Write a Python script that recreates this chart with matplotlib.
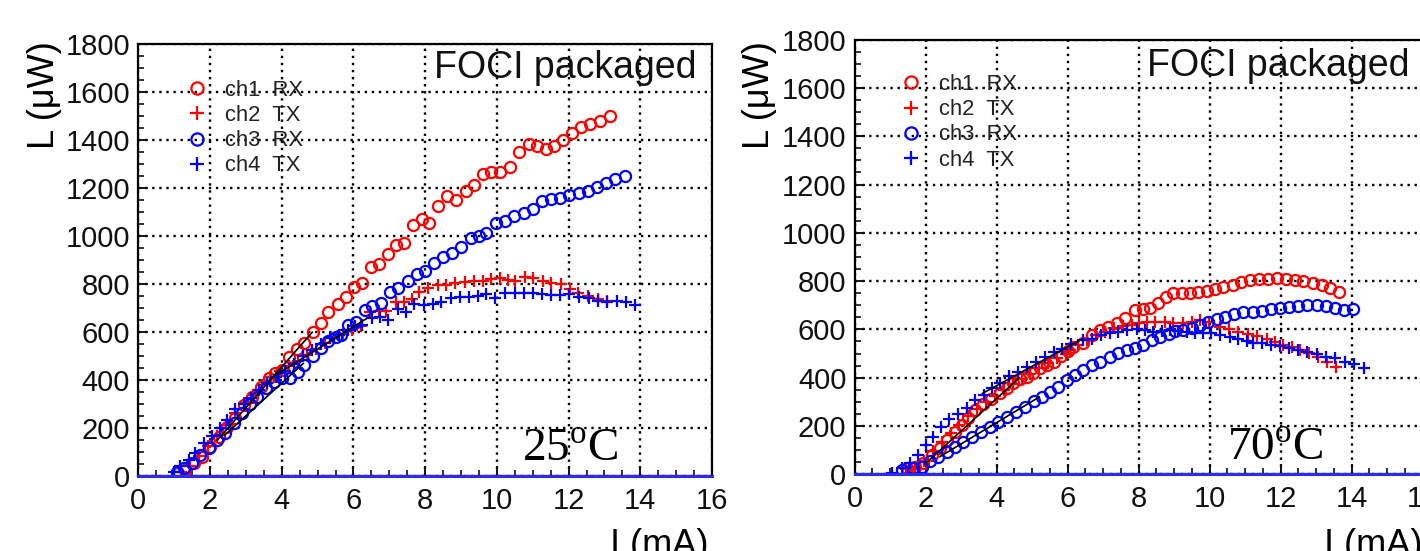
import matplotlib
matplotlib.use("Agg")
import matplotlib.pyplot as plt
from matplotlib.ticker import MultipleLocator

plt.rcParams['font.family'] = ['Liberation Sans', 'DejaVu Sans']
plt.rcParams['mathtext.fontset'] = 'custom'
plt.rcParams['mathtext.rm'] = 'Liberation Serif'

# 25 C data, current in mA, light output in uW
ch1_rx_25_i = [1.1, 1.3, 1.55, 1.78, 2.0, 2.25, 2.48, 2.7, 2.95, 3.18, 3.41, 3.65, 3.8, 4.0, 4.2, 4.42, 4.62,
               4.86, 5.09, 5.3, 5.56, 5.79, 6.02, 6.24, 6.49, 6.7, 6.95, 7.19, 7.42, 7.65, 7.9, 8.12, 8.35, 8.61,
               8.87, 9.13, 9.36, 9.61, 9.84, 10.08, 10.36, 10.61, 10.89, 11.13, 11.36, 11.6, 11.85, 12.1, 12.34,
               12.6, 12.88, 13.16]
ch1_rx_25_L = [12, 26, 54, 82, 123, 165, 207, 245, 297, 332, 374, 408, 430, 445, 498, 530, 555,
               600, 640, 686, 716, 748, 790, 807, 873, 885, 925, 964, 971, 1047, 1072, 1057, 1126, 1169,
               1151, 1189, 1214, 1260, 1269, 1269, 1287, 1353, 1385, 1376, 1364, 1378, 1401, 1432, 1457,
               1468, 1482, 1501]

ch2_tx_25_i = [1.2, 1.45, 1.7, 1.95, 2.2, 2.45, 2.7, 2.95, 3.2, 3.45, 3.7, 3.95, 4.2, 4.45, 4.7, 4.95, 5.2,
               5.45, 5.7, 5.95, 6.2, 6.45, 6.7, 6.9, 7.19, 7.4, 7.62, 7.84, 8.07, 8.35, 8.59, 8.84, 9.1, 9.36,
               9.61, 9.84, 10.08, 10.3, 10.5, 10.78, 11.01, 11.29, 11.52, 11.79, 12.04, 12.27, 12.53, 12.81,
               13.06]
ch2_tx_25_L = [20, 45, 85, 125, 170, 215, 265, 305, 340, 380, 415, 440, 460, 480, 505, 530, 555,
               575, 595, 610, 625, 686, 688, 690, 728, 728, 740, 769, 786, 797, 797, 804, 811, 814,
               814, 821, 825, 818, 815, 829, 825, 815, 807, 801, 780, 765, 751, 737,
               732]

ch3_rx_25_i = [1.08, 1.27, 1.5, 1.73, 1.97, 2.2, 2.43, 2.67, 2.9, 3.11, 3.32, 3.55, 3.79, 4.02, 4.23, 4.44,
               4.63, 4.86, 5.09, 5.3, 5.5, 5.65, 5.85, 6.07, 6.32, 6.53, 6.77, 7.03, 7.25, 7.51, 7.77, 8.0,
               8.26, 8.51, 8.75, 9.01, 9.27, 9.5, 9.71, 9.98, 10.24, 10.48, 10.76, 11.01, 11.26, 11.52, 11.77,
               12.01, 12.29, 12.53, 12.79, 13.03, 13.3, 13.56]
ch3_rx_25_L = [19, 33, 54, 89, 116, 151, 179, 221, 262, 300, 332, 366, 394, 408, 408, 436,
               464, 500, 535, 565, 580, 590, 630, 641, 693, 709, 723, 769, 786, 815, 843, 857,
               890, 915, 929, 957, 992, 1003, 1012, 1054, 1064, 1086, 1096, 1114, 1147, 1154, 1161,
               1172, 1182, 1189, 1207, 1221, 1237, 1251]

ch4_tx_25_i = [1.0, 1.17, 1.41, 1.59, 1.83, 2.06, 2.27, 2.48, 2.71, 2.95, 3.13, 3.37, 3.6, 3.85, 4.1, 4.35,
               4.6, 4.85, 5.09, 5.35, 5.6, 5.85, 6.05, 6.25, 6.53, 6.75, 6.97, 7.23, 7.47, 7.7, 7.96, 8.21,
               8.45, 8.71, 8.96, 9.22, 9.47, 9.71, 9.94, 10.24, 10.5, 10.76, 11.01, 11.26, 11.52, 11.77, 12.01,
               12.29, 12.57, 12.81, 13.06, 13.34, 13.59, 13.84]
ch4_tx_25_L = [20, 45, 68, 98, 140, 169, 200, 234, 279, 301, 325, 360, 390, 415, 440, 470,
               500, 525, 550, 575, 590, 610, 625, 630, 661, 665, 651, 696, 686, 718, 714, 718,
               728, 742, 748, 748, 753, 758, 742, 762, 762, 765, 765, 760, 755, 755, 760,
               748, 741, 730, 727, 730, 727, 714]

# 70 C data
ch1_rx_70_i = [1.46, 1.7, 1.93, 2.17, 2.4, 2.61, 2.83, 3.01, 3.2, 3.39, 3.62, 3.85, 4.09, 4.28, 4.47, 4.66,
               4.84, 5.03, 5.22, 5.41, 5.6, 5.8, 6.0, 6.16, 6.44, 6.68, 6.91, 7.14, 7.38, 7.61, 7.9, 8.13,
               8.32, 8.55, 8.77, 8.98, 9.21, 9.45, 9.68, 9.91, 10.15, 10.38, 10.65, 10.87, 11.14, 11.4, 11.65,
               11.9, 12.15, 12.4, 12.64, 12.9, 13.15, 13.39, 13.65]
ch1_rx_70_L = [25, 32, 45, 80, 108, 142, 177, 204, 232, 266, 290, 310, 335, 356, 377, 393,
               404, 418, 439, 453, 466, 490, 510, 526, 545, 575, 598, 611, 625, 646, 680, 683,
               687, 711, 735, 749, 749, 749, 756, 760, 766, 776, 782, 798, 805, 807, 809,
               811, 809, 805, 802, 791, 784, 770, 756]

ch2_tx_70_i = [1.45, 1.7, 1.95, 2.2, 2.45, 2.7, 2.95, 3.2, 3.45, 3.7, 3.95, 4.2, 4.45, 4.7, 4.95, 5.2,
               5.45, 5.7, 5.95, 6.07, 6.3, 6.55, 6.8, 7.05, 7.3, 7.55, 7.8, 8.0, 8.22, 8.46, 8.74, 8.98,
               9.25, 9.5, 9.73, 9.98, 10.3, 10.55, 10.8, 11.09, 11.32, 11.6, 11.84, 12.07, 12.31, 12.54,
               12.81, 13.06, 13.31, 13.56]
ch2_tx_70_L = [20, 30, 55, 95, 135, 170, 205, 240, 270, 300, 325, 350, 375, 395, 415, 440,
               460, 480, 500, 515, 535, 555, 575, 590, 605, 615, 620, 628, 632, 632, 632, 628,
               625, 632, 639, 630, 612, 600, 590, 581, 573, 559, 549, 535, 526, 515,
               501, 487, 466, 446]

ch3_rx_70_i = [1.32, 1.65, 1.89, 2.12, 2.36, 2.59, 2.82, 3.06, 3.3, 3.55, 3.8, 4.05, 4.3, 4.55, 4.8, 5.05,
               5.27, 5.5, 5.74, 5.97, 6.21, 6.44, 6.68, 6.91, 7.19, 7.43, 7.66, 7.9, 8.13, 8.37, 8.6, 8.84,
               9.02, 9.25, 9.49, 9.73, 9.96, 10.2, 10.43, 10.68, 10.95, 11.21, 11.46, 11.72, 11.98, 12.24,
               12.5, 12.75, 13.01, 13.28, 13.53, 13.78, 14.03]
ch3_rx_70_L = [18, 25, 32, 55, 73, 94, 115, 135, 155, 175, 195, 215, 237, 258, 280, 302,
               322, 342, 363, 391, 411, 432, 453, 466, 487, 501, 515, 522, 536, 556, 570, 581,
               595, 598, 604, 618, 632, 642, 653, 664, 674, 674, 677, 683, 687, 694,
               697, 701, 701, 697, 687, 680, 683]

ch4_tx_70_i = [1.04, 1.32, 1.56, 1.79, 2.0, 2.2, 2.43, 2.67, 2.92, 3.15, 3.39, 3.64, 3.86, 4.1, 4.35, 4.6,
               4.85, 5.1, 5.35, 5.6, 5.85, 6.1, 6.44, 6.68, 6.95, 7.19, 7.43, 7.66, 7.94, 8.17, 8.41, 8.65,
               8.88, 9.12, 9.35, 9.59, 9.82, 10.05, 10.29, 10.57, 10.81, 11.05, 11.21, 11.46, 11.72, 11.98,
               12.24, 12.5, 12.75, 13.01, 13.28, 13.53, 13.81, 14.07, 14.35]
ch4_tx_70_L = [7, 25, 45, 80, 120, 156, 196, 229, 250, 273, 308, 328, 356, 380, 405, 425,
               445, 465, 485, 505, 520, 540, 556, 560, 578, 584, 590, 597, 600, 598, 590, 595,
               597, 593, 590, 586, 584, 584, 577, 568, 560, 553, 545, 542, 535, 531,
               522, 515, 508, 498, 487, 480, 466, 456, 439]

# linear fits drawn in black
fits_25 = [([2.2, 4.85], [150, 600]), ([3.7, 6.45], [410, 665]), ([2.4, 4.6], [170, 470])]
fits_70 = [([2.0, 4.6], [45, 395]), ([3.6, 6.4], [335, 560]), ([2.4, 5.2], [73, 320])]

zero_line_i = [0, 16]
zero_line_L = [0, 0]

labels = ['ch1  RX', 'ch2  TX', 'ch3  RX', 'ch4  TX']
temps = [r'25$^{\mathrm{o}}$C', r'70$^{\mathrm{o}}$C']

fig = plt.figure(figsize=(14.2, 5.51), dpi=100)
ax_left = fig.add_axes([138.3 / 1420, 1 - 476.3 / 551, (712 - 138.3) / 1420, 432 / 551])
ax_right = fig.add_axes([854.7 / 1420, 1 - 474.3 / 551, 568 / 1420, 434.7 / 551])

panels = [
    (ax_left, [(ch1_rx_25_i, ch1_rx_25_L), (ch2_tx_25_i, ch2_tx_25_L), (ch3_rx_25_i, ch3_rx_25_L),
               (ch4_tx_25_i, ch4_tx_25_L)], fits_25, temps[0], (10.7, 60), (15.58, 1660), (0.068, 0.938)),
    (ax_right, [(ch1_rx_70_i, ch1_rx_70_L), (ch2_tx_70_i, ch2_tx_70_L), (ch3_rx_70_i, ch3_rx_70_L),
                (ch4_tx_70_i, ch4_tx_70_L)], fits_70, temps[1], (10.5, 59), (15.64, 1649), (0.064, 0.941)),
]
styles = [('o', 'red'), ('+', 'red'), ('o', 'blue'), ('+', 'blue')]

for ax, series, fits, temp, temp_pos, title_pos, legend_pos in panels:
    for (cur, light), (marker, color), label in zip(series, styles, labels):
        if marker == 'o':
            ax.plot(cur, light, linestyle='none', marker='o', ms=8, mfc='none', mec=color, mew=1.6,
                    label=label, zorder=3)
        else:
            ax.plot(cur, light, linestyle='none', marker='+', ms=9, color=color, mew=1.6,
                    label=label, zorder=3)
    for fx, fy in fits:
        ax.plot(fx, fy, color='black', lw=1.2, zorder=4)
    ax.plot(zero_line_i, zero_line_L, color='#2a2aff', lw=2.2, clip_on=False, zorder=5)

    ax.set_xlim(0, 16)
    ax.set_ylim(0, 1800)
    ax.xaxis.set_major_locator(MultipleLocator(2))
    ax.xaxis.set_minor_locator(MultipleLocator(0.5))
    ax.yaxis.set_major_locator(MultipleLocator(200))
    ax.yaxis.set_minor_locator(MultipleLocator(50))
    ax.tick_params(which='both', direction='in', labelsize=21, colors='#111111')
    ax.tick_params(which='major', length=7, width=1.4)
    ax.tick_params(which='minor', length=4, width=1.2)
    ax.tick_params(axis='x', pad=8)
    ax.tick_params(axis='y', pad=6)
    ax.grid(which='major', color='black', linestyle=(0, (1, 2)), linewidth=1.7)
    for spine in ax.spines.values():
        spine.set_linewidth(1.6)

    ax.text(title_pos[0], title_pos[1], 'FOCI packaged', ha='right', va='baseline', fontsize=27,
            color='#111111')
    ax.text(temp_pos[0], temp_pos[1], temp, family='Liberation Serif', fontsize=34, va='baseline')
    ax.legend(loc='upper left', bbox_to_anchor=legend_pos, frameon=False, fontsize=15.8, handlelength=1.0,
              handletextpad=0.78, labelspacing=0.19, borderaxespad=0, borderpad=0.4, markerscale=1.1,
              labelcolor='#222222')

fig.text(45 / 1420, 1 - 95 / 551, 'L (μW)', rotation=90, ha='center', va='center', fontsize=26)
fig.text(760 / 1420, 1 - 95 / 551, 'L (μW)', rotation=90, ha='center', va='center', fontsize=26)
fig.text(610 / 1420, 1 - 528 / 551, 'I (mA)', ha='left', va='top', fontsize=26)
fig.text(1324 / 1420, 1 - 528 / 551, 'I (mA)', ha='left', va='top', fontsize=26)

fig.savefig('out.png', dpi=100)
